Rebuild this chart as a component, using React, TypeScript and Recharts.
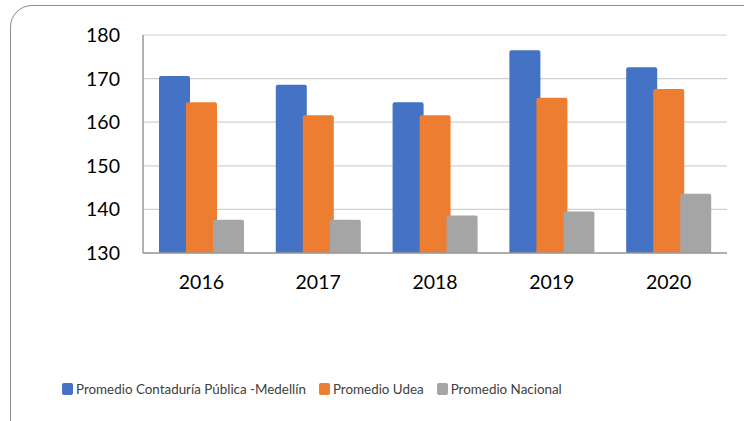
import { BarChart, Bar, XAxis, YAxis, CartesianGrid } from 'recharts'

const YEARS = ['2016', '2017', '2018', '2019', '2020']
const CONTADURIA = [170.6, 168.6, 164.6, 176.5, 172.6]
const UDEA = [164.6, 161.6, 161.6, 165.6, 167.6]
const NACIONAL = [137.6, 137.6, 138.6, 139.5, 143.6]
const Y_TICKS = [130, 140, 150, 160, 170, 180]

const SERIES = [
  { key: 'contaduria', name: 'Promedio Contaduría Pública -Medellín', color: '#4472c4' },
  { key: 'udea', name: 'Promedio Udea', color: '#ed7d31' },
  { key: 'nacional', name: 'Promedio Nacional', color: '#a5a5a5' },
]

const data = YEARS.map((year, i) => ({
  year,
  contaduria: CONTADURIA[i],
  udea: UDEA[i],
  nacional: NACIONAL[i],
}))

const FONT = 'Lato, "Noto Sans", sans-serif'

// legend sits left of centre in the original, so it is laid out by hand
function ChartLegend() {
  return (
    <div
      style={{
        position: 'absolute',
        left: 62,
        top: 381,
        display: 'flex',
        alignItems: 'center',
        fontFamily: FONT,
        fontSize: 13.4,
        color: '#404040',
        whiteSpace: 'nowrap',
      }}
    >
      {SERIES.map((s) => (
        <div key={s.key} style={{ display: 'flex', alignItems: 'center', marginRight: 13 }}>
          <span style={{ display: 'inline-block', width: 11, height: 12, borderRadius: 2, background: s.color, marginRight: 3 }} />
          {s.name}
        </div>
      ))}
    </div>
  )
}

export default function App() {
  return (
    <div style={{ position: 'fixed', left: 0, top: 0, width: 744, height: 421, overflow: 'hidden', background: '#fff' }}>
      <div
        style={{
          position: 'absolute',
          left: 10,
          top: 5,
          width: 780,
          height: 450,
          border: '1px solid #8c8c8c',
          borderRadius: 22,
        }}
      />
      <div style={{ position: 'absolute', left: 0, top: 0 }}>
        <BarChart
          width={744}
          height={421}
          data={data}
          margin={{ top: 35, right: 17, left: 0, bottom: 128 }}
          barSize={31}
          barGap={-4}
        >
          <CartesianGrid vertical={false} stroke="#d0d0d0" strokeWidth={1.2} />
          <XAxis
            dataKey="year"
            axisLine={{ stroke: '#9a9a9a', strokeWidth: 1.5 }}
            tickLine={false}
            tickSize={0}
            tickMargin={22}
            tick={{ fontSize: 19.5, fill: '#000', fontFamily: FONT }}
            height={40}
          />
          <YAxis
            domain={[130, 180]}
            ticks={Y_TICKS}
            width={143}
            axisLine={{ stroke: '#9a9a9a', strokeWidth: 1.5 }}
            tickLine={false}
            tickSize={0}
            tickMargin={23}
            tick={{ fontSize: 19.5, fill: '#000', fontFamily: FONT }}
            interval={0}
          />
          {SERIES.map((s) => (
            <Bar
              key={s.key}
              dataKey={s.key}
              name={s.name}
              fill={s.color}
              radius={[2, 2, 0, 0]}
              isAnimationActive={false}
            />
          ))}
        </BarChart>
      </div>
      <ChartLegend />
    </div>
  )
}
